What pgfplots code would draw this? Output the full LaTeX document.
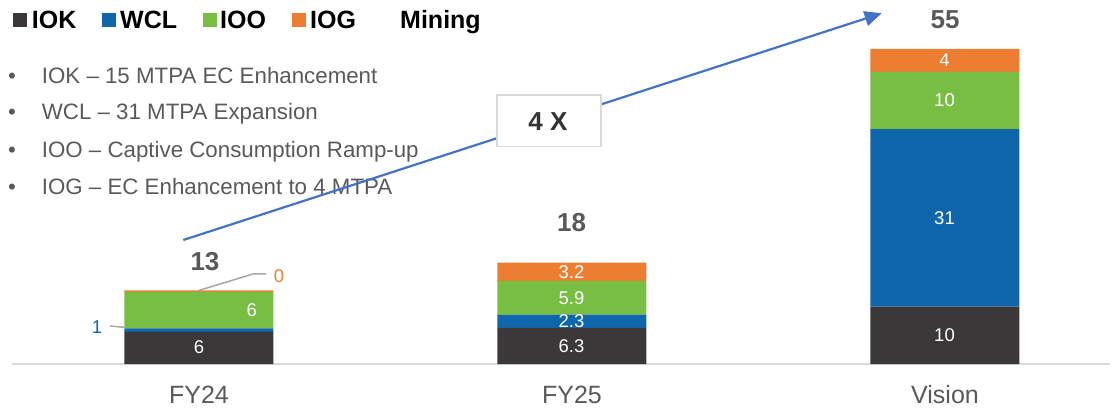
\documentclass[border=0pt]{standalone}
\usepackage{pgfplots}
\pgfplotsset{compat=1.18}
\usepackage{fontspec}
\setmainfont{Liberation Sans}
\usetikzlibrary{arrows.meta}

\definecolor{iok}{HTML}{3A3838}
\definecolor{wcl}{HTML}{1066AB}
\definecolor{ioo}{HTML}{78BE43}
\definecolor{iog}{HTML}{ED7D31}
\definecolor{txt}{HTML}{595959}
\definecolor{arr}{HTML}{4472C4}

\newcommand{\myfs}[1]{\fontsize{#1}{#1}\selectfont}
\tikzset{barlbl/.style={text=white, font=\myfs{18.5}, anchor=center, inner sep=0pt}}

\begin{document}
\begin{tikzpicture}
\useasboundingbox (0,0) rectangle (1117pt,410pt);

\begin{axis}[
    at={(12pt,46pt)}, anchor=south west,
    scale only axis,
    width=1098pt, height=343.8pt,
    xmin=-0.5013, xmax=2.4424,
    ymin=0, ymax=60,
    ybar stacked,
    bar width=149pt,
    axis x line*=bottom,
    axis y line=none,
    axis line style={draw=black!15, line width=1.3pt},
    xtick=data,
    xticklabels={FY24,FY25,Vision},
    major tick length=0pt,
    xticklabel style={font=\myfs{25}, text=txt, anchor=base, yshift=-39pt},
    ytick=\empty,
    clip=false,
]
\addplot[fill=iok, draw=none] coordinates {(0,5.6) (1,6.3) (2,10)};
\addplot[fill=wcl, draw=none] coordinates {(0,0.6) (1,2.3) (2,31)};
\addplot[fill=ioo, draw=none] coordinates {(0,6.4) (1,5.9) (2,10)};
\addplot[fill=iog, draw=none] coordinates {(0,0.25) (1,3.2) (2,4)};
\end{axis}

% annotations in pixel coordinates (y downwards)
\begin{scope}[shift={(0,410pt)}, yscale=-1, x=1pt, y=1pt]
  % value labels on the bars
  \node[barlbl] at (199,347) {6};
  \node[barlbl] at (251.7,310) {6};
  \node[barlbl] at (571.5,346) {6.3};
  \node[barlbl] at (571.5,321.3) {2.3};
  \node[barlbl] at (571.5,297.8) {5.9};
  \node[barlbl] at (571.5,271.8) {3.2};
  \node[barlbl] at (944.5,335.4) {10};
  \node[barlbl] at (944.5,217.9) {31};
  \node[barlbl] at (944.5,100.4) {10};
  \node[barlbl] at (944.5,60.3) {4};
  % legend
  \fill[iok] (13,12.7) rectangle (27,26.7);
  \fill[wcl] (101.7,12.7) rectangle (115.7,26.7);
  \fill[ioo] (202.7,12.7) rectangle (216.7,26.7);
  \fill[iog] (292,12.7) rectangle (306,26.7);
  \begin{scope}[every node/.style={anchor=base west, inner sep=0pt, font=\myfs{25}\bfseries, text=black}]
    \node at (31.7,28.3) {IOK};
    \node at (120,28.3) {WCL};
    \node at (220,28.3) {IOO};
    \node at (310,28.3) {IOG};
    \node at (400,28.3) {Mining};
  \end{scope}
  % bullets
  \begin{scope}[every node/.style={anchor=base west, inner sep=0pt, font=\myfs{22.3}, text=txt}]
    \node at (8,83.3) {•};  \node at (41.7,83.3) {IOK – 15 MTPA EC Enhancement};
    \node at (8,120)  {•};  \node at (41.7,120)  {WCL – 31 MTPA Expansion};
    \node at (8,157.3){•};  \node at (41.7,157.3){IOO – Captive Consumption Ramp-up};
    \node at (8,195)  {•};  \node at (41.7,195)  {IOG – EC Enhancement to 4 MTPA};
  \end{scope}
  % growth arrow
  \draw[arr, line width=2.2pt, -{Triangle[length=17pt,width=15pt]}] (183.3,240) -- (881.7,13.3);
  \node[draw=black!15, line width=1.5pt, fill=white, minimum width=104pt, minimum height=51.7pt, inner sep=0pt] at (548.8,120.8) {};
  \node[anchor=base, inner sep=0pt, font=\myfs{26}\bfseries, text=black!80] at (548,131) {4 X};
  % totals
  \begin{scope}[every node/.style={anchor=base, inner sep=0pt, font=\myfs{26}\bfseries, text=txt}]
    \node at (205,270.7) {13};
    \node at (571.7,231.7) {18};
    \node at (945,28.3) {55};
  \end{scope}
  % small FY24 callouts
  \draw[black!35, line width=1.5pt] (198,290.7) -- (253,274) -- (266,274);
  \node[text=iog, font=\myfs{18.5}, anchor=center] at (279,276) {0};
  \draw[black!35, line width=1.5pt] (110,326) -- (124.3,327.3);
  \node[text=wcl, font=\myfs{18.5}, anchor=center] at (97,327) {1};
\end{scope}
\end{tikzpicture}
\end{document}
